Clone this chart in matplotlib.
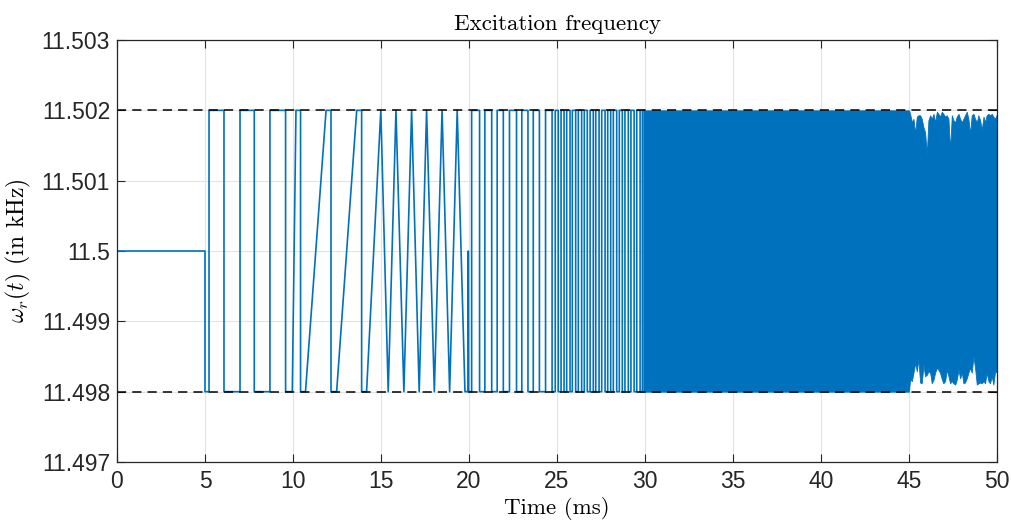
import matplotlib
matplotlib.use('Agg')
import matplotlib.pyplot as plt

hi = 11.502
lo = 11.498

# 0 - 20 ms: start level, square steps, ramps and triangles
t_start = [0, 5.0, 5.0, 5.23, 5.23, 6.08, 6.08, 6.99, 6.99, 7.8, 7.8, 8.69, 8.69,
           9.58, 9.58, 9.96, 10.17, 10.43, 10.43, 10.71, 11.88, 12.16, 12.16, 12.48,
           13.62, 13.9, 13.9, 14.18, 14.99, 15.41, 15.85, 16.3, 16.74, 17.17, 17.59,
           18.03, 18.47, 18.9, 19.33, 19.77, 19.96, 19.96, 19.97, 20.15]
y_start = [11.5, 11.5, 11.498, 11.498, 11.502, 11.502, 11.498, 11.498, 11.502, 11.502,
           11.498, 11.498, 11.502, 11.502, 11.498, 11.498, 11.502, 11.502, 11.498, 11.498,
           11.502, 11.502, 11.498, 11.498, 11.502, 11.502, 11.498, 11.498, 11.502, 11.498,
           11.502, 11.498, 11.502, 11.498, 11.502, 11.498, 11.502, 11.498, 11.502, 11.498,
           11.498, 11.5, 11.498, 11.498]

# 20 - 30 ms: switching times of the square wave (first switch goes up)
switch_t = [20.15, 20.6, 20.9, 21.29, 21.6, 21.95, 22.3, 22.7, 23.0, 23.35, 23.65, 24.0,
            24.35, 24.72, 24.9, 25.07, 25.23, 25.4, 25.55, 25.74, 25.87, 26.06, 26.21,
            26.4, 26.55, 26.72, 26.88, 27.06, 27.2, 27.39, 27.54, 27.73, 27.88, 28.05,
            28.2, 28.39, 28.54, 28.71, 28.86, 29.05, 29.2, 29.38, 29.53, 29.72, 29.85]

# 30 - 50 ms: switching too fast to resolve, read as upper / lower envelope
env_t = [29.9, 45.0, 45.06, 45.16, 45.25, 45.35, 45.44, 45.53, 45.63, 45.72, 45.82, 45.91,
         46.01, 46.10, 46.20, 46.29, 46.39, 46.48, 46.58, 46.67, 46.76, 46.86, 46.95,
         47.05, 47.14, 47.24, 47.33, 47.43, 47.52, 47.62, 47.71, 47.81, 47.90, 48.00,
         48.09, 48.18, 48.28, 48.37, 48.47, 48.56, 48.66, 48.75, 48.85, 48.94, 49.04,
         49.13, 49.23, 49.32, 49.41, 49.51, 49.60, 49.70, 49.79, 49.89, 50.0]
env_hi = [11.502, 11.502, 11.50195, 11.50183, 11.50188, 11.50167, 11.50191, 11.50193,
          11.50193, 11.50188, 11.50176, 11.50169, 11.50138, 11.50186, 11.50193, 11.50188,
          11.50195, 11.50183, 11.50198, 11.50195, 11.50191, 11.50198, 11.50195, 11.50191,
          11.50193, 11.50188, 11.50143, 11.50193, 11.50186, 11.50183, 11.50191, 11.50195,
          11.50188, 11.50183, 11.50188, 11.50193, 11.50198, 11.50188, 11.50167, 11.50193,
          11.50195, 11.50188, 11.50183, 11.50193, 11.50186, 11.50172, 11.50191, 11.50183,
          11.50193, 11.50195, 11.50193, 11.50195, 11.50191, 11.50188, 11.50195]
env_lo = [11.498, 11.498, 11.49818, 11.49815, 11.49827, 11.49841, 11.49829, 11.49846,
          11.49813, 11.49812, 11.49838, 11.49822, 11.49824, 11.49829, 11.49827, 11.49812,
          11.49817, 11.49827, 11.49834, 11.49831, 11.49827, 11.49818, 11.49812, 11.49815,
          11.49831, 11.49822, 11.49812, 11.49815, 11.49812, 11.49810, 11.49817, 11.49831,
          11.49819, 11.49827, 11.49812, 11.49813, 11.49819, 11.49827, 11.49834, 11.49827,
          11.49850, 11.49834, 11.49810, 11.49812, 11.49813, 11.49812, 11.49815, 11.49812,
          11.49827, 11.49815, 11.49812, 11.49822, 11.49810, 11.49829, 11.49827]

xticks = [0, 5, 10, 15, 20, 25, 30, 35, 40, 45, 50]
yticks = [11.497, 11.498, 11.499, 11.5, 11.501, 11.502, 11.503]
yticklabels = ['11.497', '11.498', '11.499', '11.5', '11.501', '11.502', '11.503']

# join the step part onto the first part
t_line = list(t_start)
y_line = list(y_start)
level = lo
for t in switch_t:
    new = hi if level == lo else lo
    t_line += [t, t]
    y_line += [level, new]
    level = new
t_line.append(29.95)
y_line.append(level)

plt.rcParams['mathtext.fontset'] = 'cm'
plt.rcParams['font.family'] = 'Liberation Sans'
plt.rcParams['axes.unicode_minus'] = False

fig = plt.figure(figsize=(10.11, 5.25), dpi=100)
ax = fig.add_axes([0.1157, 0.12, 0.8705, 0.8038])

blue = '#0072BD'
ax.plot(t_line, y_line, color=blue, linewidth=1.2)
ax.fill_between(env_t, env_lo, env_hi, color=blue, linewidth=0.6, edgecolor=blue)

ax.axhline(hi, color='black', linestyle=(0, (6, 4)), linewidth=1.1)
ax.axhline(lo, color='black', linestyle=(0, (6, 4)), linewidth=1.1)

ax.set_xlim(0, 50)
ax.set_ylim(11.497, 11.503)
ax.set_xticks(xticks)
ax.set_yticks(yticks)
ax.set_yticklabels(yticklabels)
ax.grid(True, color='#e3e3e3', linewidth=0.8)
ax.set_axisbelow(True)

ax.tick_params(direction='in', length=6, width=0.8, colors='#262626',
               labelsize=16.5, top=True, right=True)
ax.tick_params(axis='x', pad=6)
ax.tick_params(axis='y', pad=5)
for s in ax.spines.values():
    s.set_color('#262626')
    s.set_linewidth(0.9)

ax.set_title('Excitation frequency', fontfamily='cmr10', fontsize=16.5, pad=7)
ax.set_xlabel('Time (ms)', fontfamily='cmr10', fontsize=16.5, labelpad=3)
ax.set_ylabel(r'$\omega_r(t)$ (in kHz)', fontfamily='cmr10', fontsize=17, labelpad=6)

fig.savefig('out.png', dpi=100)
